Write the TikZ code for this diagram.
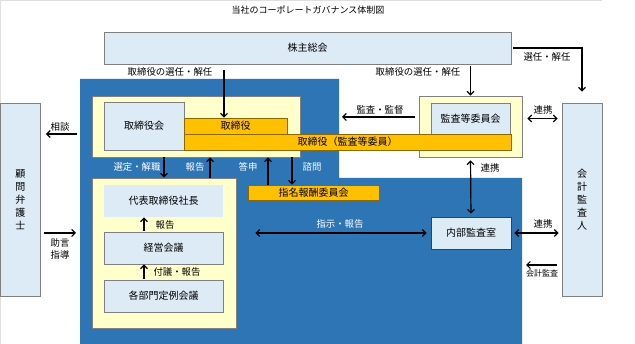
\documentclass[tikz,border=0pt]{standalone}
\usepackage{fontspec}
\setmainfont{Noto Sans CJK JP}
\usetikzlibrary{arrows.meta,calc}
\definecolor{corp}{RGB}{46,117,182}
\definecolor{cream}{RGB}{255,255,204}
\definecolor{pale}{RGB}{221,235,247}
\definecolor{gold}{RGB}{255,192,0}
\definecolor{goldline}{RGB}{140,105,0}
\definecolor{edge}{RGB}{128,128,128}
\tikzset{
  tip/.style={Straight Barb[length=3.5pt,width=7pt]},
  arr/.style={-{Straight Barb[length=3.5pt,width=7pt]},line width=1.2pt,draw=black},
  dbl/.style={{Straight Barb[length=3.5pt,width=7pt]}-{Straight Barb[length=3.5pt,width=7pt]},line width=1.2pt,draw=black},
  grp/.style={draw=edge,fill=cream,line width=.7pt,inner sep=0pt},
  box/.style={draw=edge,fill=pale,line width=.7pt,inner sep=0pt,font=\fontsize{10}{12}\selectfont},
  bar/.style={draw=goldline,fill=gold,line width=.6pt,inner sep=0pt,font=\fontsize{10}{12}\selectfont},
  tall/.style={box,align=center,font=\fontsize{10}{13}\selectfont},
  lab/.style={font=\fontsize{9.4}{11}\selectfont,inner sep=0pt},
  wlab/.style={lab,text=white}
}
\begin{document}
\begin{tikzpicture}[x=1pt,y=-1pt]
  \useasboundingbox (0,0) rectangle (635,344);
  \draw[gray!25] (602,.5) -- (.5,.5) -- (.5,344);
  \node[font=\fontsize{9}{11}\selectfont] (title) at (308,10) {当社のコーポレートガバナンス体制図};

  % blue area
  \fill[corp] (80,79) -- (339,79) -- (339,178) -- (522,178) -- (522,344) -- (80,344) -- cycle;

  % boxes
  \node[box,minimum width=407pt,minimum height=32pt] (sokai) at (307.5,48) {株主総会};
  \node[grp,minimum width=208pt,minimum height=61pt] (torigrp) at (196,126.5) {};
  \node[box,minimum width=80pt,minimum height=48pt] (torikai) at (144,126) {取締役会};
  \node[grp,minimum width=103pt,minimum height=61pt] (audgrp) at (470.5,126.5) {};
  \node[box,minimum width=79pt,minimum height=31pt] (audcom) at (470.5,118.5) {監査等委員会};
  \node[bar,minimum width=103pt,minimum height=16pt] (tori) at (235.5,126) {取締役};
  \node[bar,minimum width=327pt,minimum height=16pt] (toriaud) at (347.5,142) {取締役（監査等委員）};
  \node[bar,minimum width=131pt,minimum height=15pt] (shimei) at (313.5,192.5) {指名報酬委員会};
  \node[grp,minimum width=144pt,minimum height=150pt] (execgrp) at (164,253) {};
  \node[box,draw=none,minimum width=119pt,minimum height=32pt] (ceo) at (163.5,201) {代表取締役社長};
  \node[box,minimum width=119pt,minimum height=32pt] (keiei) at (163.5,248) {経営会議};
  \node[box,minimum width=119pt,minimum height=32pt] (bumon) at (163.5,296) {各部門定例会議};
  \node[box,draw=black!75,minimum width=80pt,minimum height=32pt] (naibu) at (471,233) {内部監査室};
  \node[tall,minimum width=40pt,minimum height=193pt] (kaikei) at (582,199.5) {会\\計\\監\\査\\人};
  \node[tall,minimum width=40pt,minimum height=193pt] (komon) at (20.5,199.5) {顧\\問\\弁\\護\\士};

  % free ends and x positions
  \coordinate (xa) at (224,0);
  \coordinate (xd) at (164,0);
  \coordinate (xr) at (210,0);
  \coordinate (xt) at (268,0);
  \coordinate (xs) at (292,0);
  \coordinate (xe) at (144,0);
  \coordinate (kansa) at (342,117);
  \coordinate (soudan) at (77,134);
  \coordinate (jogen) at (76,233);
  \coordinate (kaud) at (526,265);

  % shareholders
  \draw[arr,shorten <=6pt] (sokai.south -| xa) -- (tori.north -| xa);
  \node[lab] at (170,72) {取締役の選任・解任};
  \draw[arr,shorten <=2pt] (sokai.south -| audgrp.north) -- (audgrp.north);
  \node[lab] at (418,72) {取締役の選任・解任};
  \draw[arr,shorten <=2pt] (sokai.east) -| ([yshift=11pt]kaikei.north);
  \node[lab] at (547,57) {選任・解任};

  % audit committee
  \draw[arr,shorten <=4pt] (audgrp.west |- kansa) -- (kansa);
  \node[lab] at (380,110) {監査・監督};
  \draw[dbl,shorten <=5pt,shorten >=4pt] (audgrp.east |- audcom) -- (kaikei.west |- audcom);
  \node[lab] at (543,110) {連携};
  \draw[dbl,shorten <=3pt,shorten >=3pt] (audgrp.south) -- (naibu.north);
  \node[lab] at (490,168) {連携};

  % board and execution
  \draw[arr] (torigrp.south -| xd) -- (execgrp.north -| xd);
  \node[wlab] at (137,167) {選定・解職};
  \draw[arr] (execgrp.north -| xr) -- (torigrp.south -| xr);
  \node[wlab] at (195,167) {報告};
  \draw[arr] (shimei.north -| xt) -- (torigrp.south -| xt);
  \node[wlab] at (248,167) {答申};
  \draw[arr] (torigrp.south -| xs) -- (shimei.north -| xs);
  \node[wlab] at (312,167) {諮問};
  \draw[arr,shorten <=1pt] (keiei.north -| xe) -- (ceo.south -| xe);
  \node[lab] at (165,225) {報告};
  \draw[arr,shorten <=1pt] (bumon.north -| xe) -- (keiei.south -| xe);
  \node[lab] at (177,272) {付議・報告};

  % internal audit
  \draw[dbl,shorten <=19pt,shorten >=4pt] (execgrp.east |- naibu) -- (naibu.west);
  \node[wlab] at (340,224) {指示・報告};
  \draw[dbl,shorten <=3pt,shorten >=3pt] (naibu.east) -- (kaikei.west |- naibu);
  \node[lab] at (543,224) {連携};
  \draw[arr,shorten <=5pt] (kaikei.west |- kaud) -- (kaud);
  \node[lab,font=\fontsize{8}{10}\selectfont] at (542,273) {会計監査};

  % legal counsel
  \draw[arr,shorten >=5pt] (soudan) -- (komon.east |- soudan);
  \node[lab] at (60,127) {相談};
  \draw[arr,shorten <=3pt] (komon.east |- jogen) -- (jogen);
  \node[lab,align=center,font=\fontsize{9.4}{12}\selectfont] at (60,249) {助言\\指導};
\end{tikzpicture}
\end{document}
